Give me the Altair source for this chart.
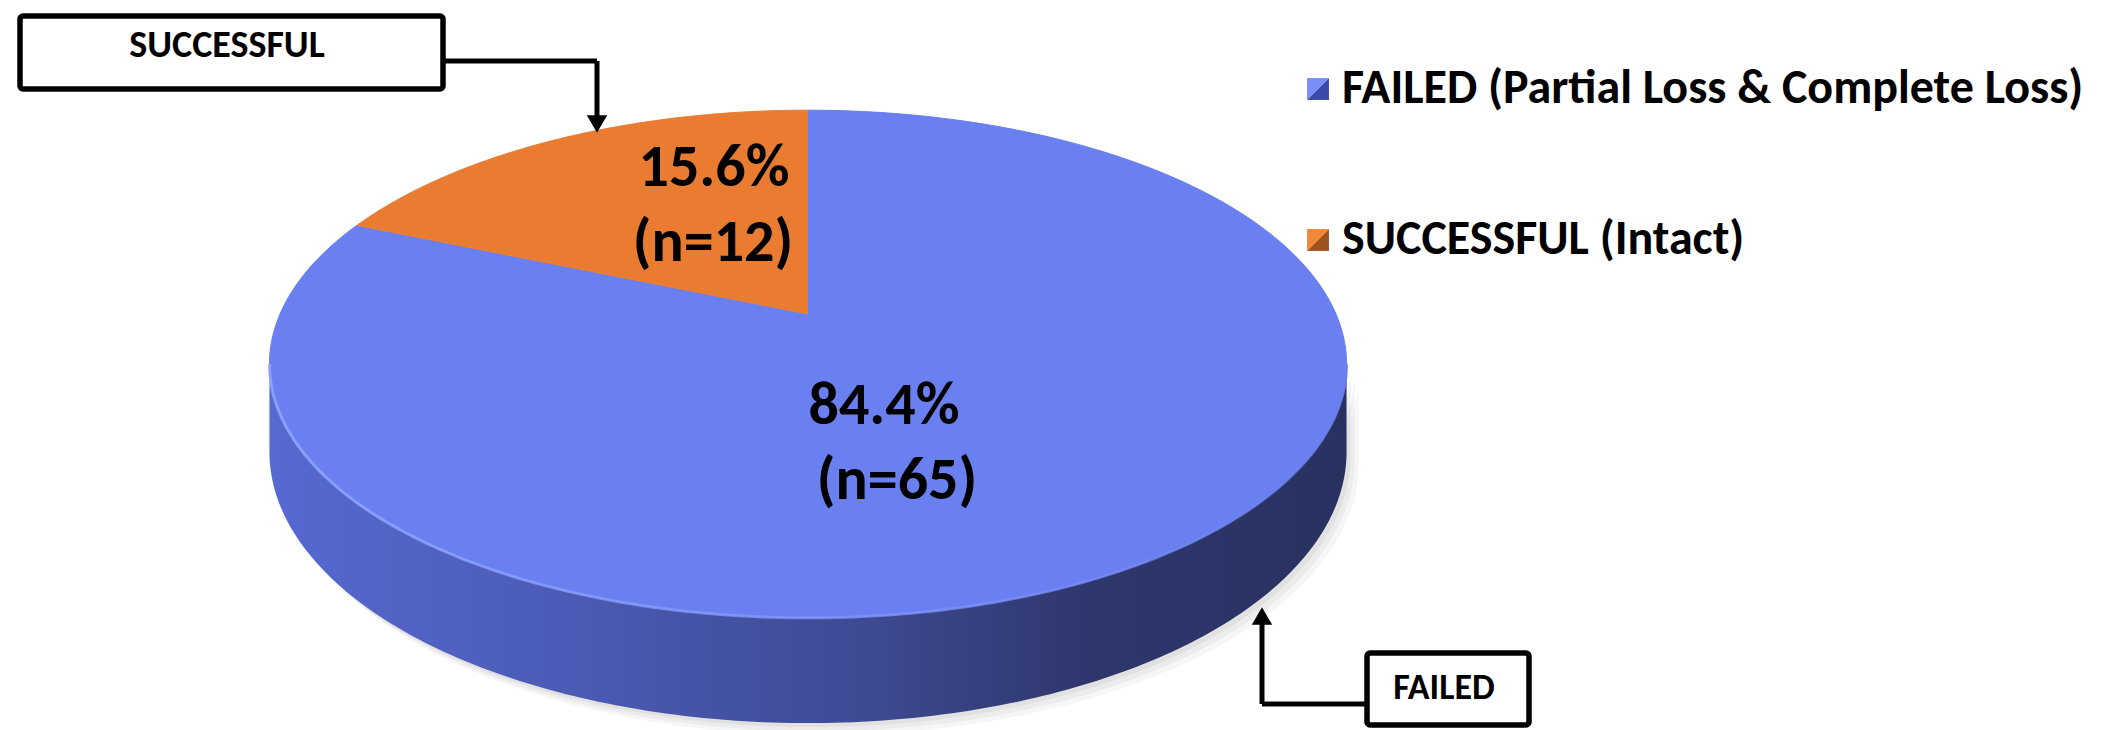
import altair as alt
import pandas as pd

W, H = 2116, 730

# ---- data: slices run clockwise from 12 o'clock ----
categories = ["FAILED (Partial Loss & Complete Loss)", "SUCCESSFUL (Intact)"]
counts = [65, 12]
slice_colors = ["#6A7FF0", "#E97C31"]
marker_light = ["#7A8EF8", "#F0883A"]
marker_dark = ["#3A4AA8", "#9E5220"]
callout_texts = ["FAILED", "SUCCESSFUL"]

# ---- 3D pie geometry (pixels) ----
CX, CY = 808, 314        # projected centre of the top face
RX, RY = 528, 244        # horizontal / vertical radius factors
PERSP = 0.197            # perspective strength (near half drawn larger)
DEPTH = 84.5             # thickness of the disc
STRETCH = 1.58           # angle warp of the tilted base
N = 200                  # samples per outline

FONT = "Carlito, Calibri, Lato, sans-serif"

xs = alt.Scale(domain=[0, W], nice=False, zero=False)
ys = alt.Scale(domain=[0, H], nice=False, zero=False, reverse=True)

slices = pd.DataFrame({
    "category": categories,
    "count": counts,
    "order": list(range(len(categories))),
})

base = (
    alt.Chart(slices)
    .transform_window(cum="sum(count)", sort=[alt.SortField("order")])
    .transform_joinaggregate(total="sum(count)")
    .transform_calculate(
        start="(datum.cum - datum.count) / datum.total",
        end="datum.cum / datum.total",
        pct="format(100 * datum.count / datum.total, '.1f') + '%'",
        nlab="'(n=' + datum.count + ')'",
    )
)

# polygon of each slice on the top face: vertex + arc
poly = (
    base.transform_calculate(step=f"sequence(0, {N + 1})")
    .transform_flatten(["step"])
    .transform_calculate(
        theta=f"datum.step == 0 ? 0 : 2 * PI * (datum.start + (datum.end - datum.start) * (datum.step - 1) / {N - 1})"
    )
    .transform_calculate(
        ex=f"datum.step == 0 ? 0 : {STRETCH} * sin(datum.theta)",
        ez="datum.step == 0 ? 0 : cos(datum.theta)",
    )
    .transform_calculate(L="datum.step == 0 ? 1 : sqrt(datum.ex * datum.ex + datum.ez * datum.ez)")
    .transform_calculate(X="datum.ex / datum.L", Z="datum.ez / datum.L")
    .transform_calculate(w=f"1 + {PERSP} * datum.Z")
    .transform_calculate(
        px=f"{CX} + {RX} * datum.X / datum.w",
        py=f"{CY} - {RY} * datum.Z / datum.w",
    )
)

slice_layers = []
for cat, col in zip(categories, slice_colors):
    slice_layers.append(
        poly.transform_filter(alt.datum.category == cat)
        .mark_line(fill=col, stroke=col, strokeWidth=1, interpolate="linear")
        .encode(
            x=alt.X("px:Q", scale=xs, axis=None),
            y=alt.Y("py:Q", scale=ys, axis=None),
            order="step:Q",
        )
    )

# visible side wall: near half between the two silhouette points
side = (
    alt.Chart(alt.sequence(0, N + 1, as_="i"))
    .transform_calculate(t0=f"acos(-{PERSP})")
    .transform_calculate(t=f"datum.t0 + (2 * PI - 2 * datum.t0) * datum.i / {N}")
    .transform_calculate(X="sin(datum.t)", Z="cos(datum.t)")
    .transform_calculate(w=f"1 + {PERSP} * datum.Z")
    .transform_calculate(
        px=f"{CX} + {RX} * datum.X / datum.w",
        py=f"{CY} - {RY} * datum.Z / datum.w",
    )
    .transform_calculate(py2=f"datum.py + {DEPTH} / datum.w")
)

side_grad = {
    "gradient": "linear", "x1": 0, "x2": 1, "y1": 0, "y2": 0,
    "stops": [
        {"offset": 0, "color": "#5769D2"},
        {"offset": 0.3, "color": "#4A5AB2"},
        {"offset": 0.55, "color": "#3E4A94"},
        {"offset": 0.75, "color": "#2F386E"},
        {"offset": 1, "color": "#293160"},
    ],
}
rim_grad = {
    "gradient": "linear", "x1": 0, "x2": 1, "y1": 0, "y2": 0,
    "stops": [
        {"offset": 0, "color": "#93A8FF"},
        {"offset": 0.5, "color": "#8196FA"},
        {"offset": 1, "color": "#6A7FF0"},
    ],
}

shadows = []
for off, op in [(12, 0.18), (8, 0.25), (4, 0.35)]:
    shadows.append(
        side.transform_calculate(sx=f"datum.px + {off}", sy=f"datum.py + {off}", sy2=f"datum.py2 + {off}")
        .mark_area(color="#CFCFCF", opacity=op)
        .encode(
            x=alt.X("sx:Q", scale=xs, axis=None),
            y=alt.Y("sy:Q", scale=ys, axis=None),
            y2="sy2:Q",
        )
    )

side_wall = side.mark_area(color=side_grad).encode(
    x=alt.X("px:Q", scale=xs, axis=None),
    y=alt.Y("py:Q", scale=ys, axis=None),
    y2="py2:Q",
)

rim = side.mark_line(stroke=rim_grad, strokeWidth=3, opacity=0.8).encode(
    x=alt.X("px:Q", scale=xs, axis=None),
    y=alt.Y("py:Q", scale=ys, axis=None),
    order="i:Q",
)

# ---- slice labels ----
def slice_label(cat, field, x, y):
    return (
        base.transform_filter(alt.datum.category == cat)
        .mark_text(font=FONT, fontWeight="bold", fontSize=60, color="black", align="center", baseline="middle")
        .encode(x=alt.value(x), y=alt.value(y), text=f"{field}:N")
    )

labels = [
    slice_label(categories[0], "pct", 884, 406),
    slice_label(categories[0], "nlab", 897, 481),
    slice_label(categories[1], "pct", 714, 168),
    slice_label(categories[1], "nlab", 713, 243),
]

# ---- legend ----
LEG_X, LEG_Y0, LEG_DY = 1318, 89, 151
legend_df = pd.DataFrame({"category": categories, "order": list(range(len(categories)))})
legend_base = alt.Chart(legend_df).transform_calculate(ly=f"{LEG_Y0} + datum.order * {LEG_DY}")

legend_marks = []
for i, cat in enumerate(categories):
    grad = {
        "gradient": "linear", "x1": 0, "x2": 1, "y1": 0, "y2": 1,
        "stops": [
            {"offset": 0, "color": marker_light[i]},
            {"offset": 0.5, "color": marker_light[i]},
            {"offset": 0.52, "color": marker_dark[i]},
            {"offset": 1, "color": marker_dark[i]},
        ],
    }
    legend_marks.append(
        legend_base.transform_filter(alt.datum.category == cat)
        .mark_point(shape="square", filled=True, size=480, opacity=1, fill=grad)
        .encode(x=alt.value(LEG_X), y=alt.Y("ly:Q", scale=ys, axis=None))
    )

legend_text = legend_base.mark_text(
    font=FONT, fontWeight="bold", fontSize=48, color="black", align="left", baseline="middle"
).encode(
    x=alt.value(LEG_X + 24),
    y=alt.Y("ly:Q", scale=ys, axis=None),
    text="category:N",
)

# ---- callouts ----
def box(x1, x2, y1, y2):
    return alt.Chart(pd.DataFrame({"k": [0]})).mark_rect(
        fill="white", stroke="black", strokeWidth=5.5, cornerRadius=3
    ).encode(x=alt.value(x1), x2=alt.value(x2), y=alt.value(y1), y2=alt.value(y2))

def seg(x1, x2, y1, y2):
    return alt.Chart(pd.DataFrame({"k": [0]})).mark_rule(color="black", strokeWidth=5).encode(
        x=alt.value(x1), x2=alt.value(x2), y=alt.value(y1), y2=alt.value(y2)
    )

def head(x, y, shape):
    return alt.Chart(pd.DataFrame({"k": [0]})).mark_point(
        shape=shape, filled=True, color="black", size=420, opacity=1
    ).encode(x=alt.value(x), y=alt.value(y))

def callout_text(txt, x, y, size):
    return alt.Chart(pd.DataFrame({"t": [txt]})).mark_text(
        font=FONT, fontWeight="bold", fontSize=size, color="black", align="center", baseline="middle"
    ).encode(x=alt.value(x), y=alt.value(y), text="t:N")

callouts = [
    seg(443, 597, 61, 61),
    seg(597, 597, 61, 118),
    head(597, 124, "triangle-down"),
    box(20, 443, 16, 89),
    callout_text(callout_texts[1], 227, 46, 38),
    seg(1262, 1367, 704, 704),
    seg(1262, 1262, 622, 704),
    head(1262, 616, "triangle-up"),
    box(1367, 1529, 653, 725),
    callout_text(callout_texts[0], 1444, 688, 36),
]

chart = alt.layer(
    *shadows, side_wall, *slice_layers, rim, *labels, *legend_marks, legend_text, *callouts
).properties(
    width=W, height=H, padding=0, autosize="none", background="white"
).configure_view(stroke=None)

chart.save("out.html", embed_options={"renderer": "svg", "actions": False})
